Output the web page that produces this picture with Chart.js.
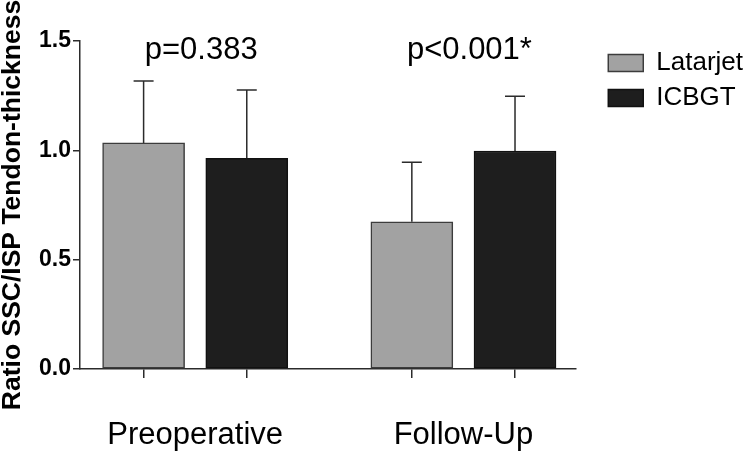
<!DOCTYPE html>
<html>
<head>
<meta charset="utf-8">
<script src="https://cdn.jsdelivr.net/npm/chart.js@4"></script>
<style>
  html, body { margin: 0; padding: 0; background: #fff; }
  #wrap { width: 753px; height: 455px; }
</style>
</head>
<body>
<div id="wrap"><canvas id="chart"></canvas></div>
<script>
// values
const categories = ["Preoperative", "Follow-Up"];
const seriesNames = ["Latarjet", "ICBGT"];
const latarjetMean = [1.034, 0.673];
const latarjetSD = [0.283, 0.273];
const icbgtMean = [0.964, 0.997];
const icbgtSD = [0.312, 0.250];
const pValues = ["p=0.383", "p<0.001*"];
const yTicks = [0, 0.5, 1.0, 1.5];

const FONT = "'Liberation Sans', Arial, Helvetica, sans-serif";
const AXIS = "#2b2b2b";
const GROUP_STEP = 2.6;          // distance between the two groups, in bar slots
const X_MIN = -0.6165, X_MAX = 4.189;

function slot(cat, series) { return cat * GROUP_STEP + series; }
function groupCenter(cat) { return cat * GROUP_STEP + 0.5; }

const barSlots = [];
categories.forEach((c, i) => seriesNames.forEach((s, j) => barSlots.push(slot(i, j))));
const sds = [latarjetSD, icbgtSD];

const errorBars = {
  id: "errorBars",
  afterDatasetsDraw(chart) {
    const ctx = chart.ctx, y = chart.scales.y;
    ctx.save();
    ctx.strokeStyle = AXIS;
    ctx.lineWidth = 1.5;
    chart.data.datasets.forEach((ds, di) => {
      chart.getDatasetMeta(di).data.forEach((bar, i) => {
        const top = y.getPixelForValue(ds.data[i].y + sds[di][i]);
        ctx.beginPath();
        ctx.moveTo(bar.x, bar.y);
        ctx.lineTo(bar.x, top);
        ctx.moveTo(bar.x - 10, top);
        ctx.lineTo(bar.x + 10, top);
        ctx.stroke();
      });
    });
    ctx.restore();
  }
};

const pLabels = {
  id: "pLabels",
  afterDraw(chart) {
    const ctx = chart.ctx, x = chart.scales.x, top = chart.chartArea.top;
    ctx.save();
    ctx.font = "31px " + FONT;
    ctx.fillStyle = "#000";
    ctx.textAlign = "center";
    ctx.textBaseline = "alphabetic";
    pValues.forEach((t, i) => ctx.fillText(t, x.getPixelForValue(groupCenter(i)) + 6, top + 18));
    ctx.restore();
  }
};

new Chart(document.getElementById("chart"), {
  type: "bar",
  data: {
    datasets: [
      {
        label: seriesNames[0],
        data: latarjetMean.map((v, i) => ({ x: slot(i, 0), y: v })),
        backgroundColor: "#a2a2a2", borderColor: "#3c3c3c", borderWidth: 1.5, borderSkipped: false
      },
      {
        label: seriesNames[1],
        data: icbgtMean.map((v, i) => ({ x: slot(i, 1), y: v })),
        backgroundColor: "#1e1e1e", borderColor: "#111", borderWidth: 1.5, borderSkipped: false
      }
    ]
  },
  options: {
    responsive: true,
    maintainAspectRatio: false,
    animation: false,
    grouped: false,
    barThickness: 82,
    layout: { padding: { top: 41, left: 0, right: 0, bottom: 0 } },
    plugins: {
      legend: {
        position: "right", align: "start", maxWidth: 220,
        labels: { font: { family: FONT, size: 26 }, color: "#000", boxWidth: 35, boxHeight: 17, padding: 9 }
      },
      tooltip: { enabled: false }
    },
    scales: {
      x: {
        type: "linear", min: X_MIN, max: X_MAX, offset: false, bounds: "data",
        afterBuildTicks: s => { s.ticks = barSlots.map(v => ({ value: v })); },
        ticks: { callback: () => "", padding: 0 },
        grid: { offset: false, drawOnChartArea: false, tickLength: 9, color: AXIS, lineWidth: 1.5 },
        border: { color: AXIS, width: 1.5 },
        afterFit: s => { s.height = 9; }
      },
      xLabels: {
        type: "linear", position: "bottom", weight: 1, min: X_MIN, max: X_MAX, offset: false, bounds: "data",
        afterBuildTicks: s => { s.ticks = categories.map((c, i) => ({ value: groupCenter(i) })); },
        ticks: {
          callback: (v, i) => categories[i],
          font: { family: FONT, size: 31 }, color: "#000", padding: 31, maxRotation: 0, autoSkip: false
        },
        grid: { display: false, offset: false },
        border: { display: false },
        afterFit: s => { s.height = 77; }
      },
      y: {
        min: 0, max: 1.5,
        afterBuildTicks: s => { s.ticks = yTicks.map(v => ({ value: v })); },
        ticks: {
          callback: v => v.toFixed(1),
          font: { family: FONT, size: 23, weight: "bold" }, color: "#000", padding: 2
        },
        grid: { drawOnChartArea: false, tickLength: 7, color: AXIS, lineWidth: 1.5 },
        border: { color: AXIS, width: 1.5 },
        title: {
          display: true, text: "Ratio SSC/ISP Tendon-thickness",
          font: { family: FONT, size: 26.5, weight: "bold" }, color: "#000", padding: { top: -3, bottom: 0 }
        },
        afterFit: s => { s.width = 80; }
      },
      gap: {
        type: "linear", position: "right",
        grid: { display: false }, border: { display: false }, ticks: { display: false },
        afterFit: s => { s.width = 23.5; }
      }
    }
  },
  plugins: [errorBars, pLabels]
});
</script>
</body>
</html>
